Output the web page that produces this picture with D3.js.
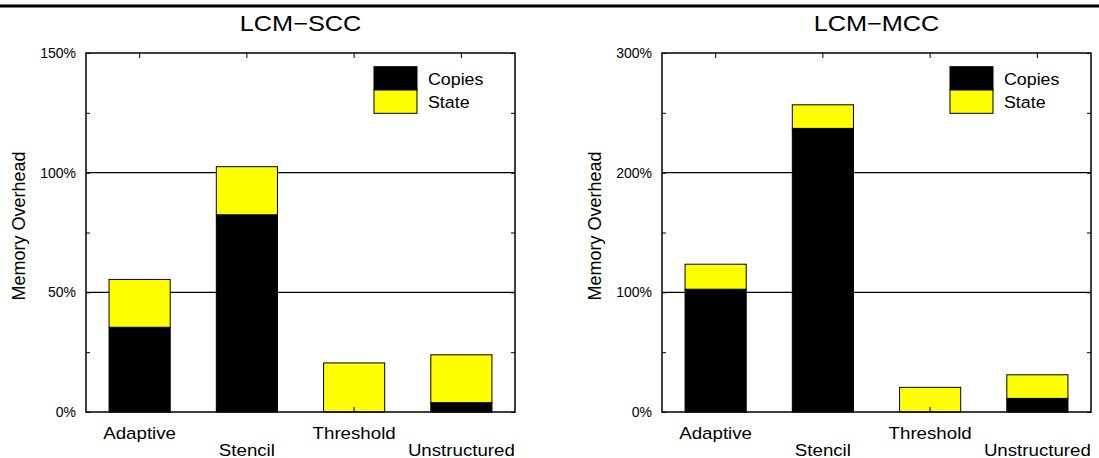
<!DOCTYPE html>
<html><head><meta charset="utf-8">
<script src="https://cdn.jsdelivr.net/npm/d3@7"></script>
<style>
body{margin:0;background:#fff}
svg{display:block}
text{font-family:"Liberation Sans",Arial,Helvetica,sans-serif;fill:#000}
</style>
</head><body>
<svg id="c" width="1099" height="458"></svg>
<script>
const categories = ["Adaptive", "Stencil", "Threshold", "Unstructured"];
const seriesNames = ["Copies", "State"];
const seriesColors = ["#000000", "#ffff00"];
const sccCopies = [35.4, 82.4, 0, 3.9];
const sccState = [20.0, 20.1, 20.5, 20.0];
const mccCopies = [102.6, 237.0, 0, 11.4];
const mccState = [20.9, 19.7, 20.6, 19.7];
const sccTicks = [0, 50, 100, 150];
const sccMinor = [25, 75, 125];
const mccTicks = [0, 100, 200, 300];
const mccMinor = [50, 150, 250];
const titles = ["LCM\u2212SCC", "LCM\u2212MCC"];
const yLabel = "Memory Overhead";

const svg = d3.select("#c");
const W = 1099;

// top rule
svg.append("line").attr("x1", 0).attr("x2", W).attr("y1", 6).attr("y2", 6)
  .attr("stroke", "#000").attr("stroke-width", 3);

const panels = [
  {x0: 86, x1: 515, copies: sccCopies, state: sccState, ticks: sccTicks, minor: sccMinor, title: titles[0]},
  {x0: 662, x1: 1091, copies: mccCopies, state: mccState, ticks: mccTicks, minor: mccMinor, title: titles[1]}
];
const yTop = 53, yBot = 412;

function stretchedText(g, x, y, str, size, anchor, sx) {
  return g.append("text")
    .attr("transform", `translate(${x},${y}) scale(${sx},1)`)
    .attr("font-size", size).attr("text-anchor", anchor).text(str);
}

panels.forEach(p => {
  const g = svg.append("g");
  const x = d3.scaleBand().domain(categories).range([p.x0, p.x1])
    .paddingInner(0.43).paddingOuter(0.215);
  const y = d3.scaleLinear().domain([0, p.ticks[p.ticks.length - 1]]).range([yBot, yTop]);
  const cx = c => x(c) + x.bandwidth() / 2;

  // gridlines
  g.selectAll("line.grid").data(p.ticks.slice(1, -1)).join("line")
    .attr("x1", p.x0).attr("x2", p.x1)
    .attr("y1", d => y(d)).attr("y2", d => y(d))
    .attr("stroke", "#000").attr("stroke-width", 1.2);

  // bars
  const rows = categories.map((c, i) => ({c, copies: p.copies[i], state: p.state[i]}));
  g.selectAll("rect.copies").data(rows.filter(r => r.copies > 0)).join("rect")
    .attr("x", r => x(r.c)).attr("width", x.bandwidth())
    .attr("y", r => y(r.copies)).attr("height", r => y(0) - y(r.copies))
    .attr("fill", seriesColors[0]).attr("stroke", "#000").attr("stroke-width", 1);
  g.selectAll("rect.state").data(rows).join("rect")
    .attr("x", r => x(r.c)).attr("width", x.bandwidth())
    .attr("y", r => y(r.copies + r.state)).attr("height", r => y(r.copies) - y(r.copies + r.state))
    .attr("fill", seriesColors[1]).attr("stroke", "#000").attr("stroke-width", 1);

  // frame
  g.append("rect").attr("x", p.x0).attr("y", yTop).attr("width", p.x1 - p.x0).attr("height", yBot - yTop)
    .attr("fill", "none").attr("stroke", "#000").attr("stroke-width", 1.5);

  // left axis ticks + labels
  const axL = d3.axisLeft(y).tickValues(p.ticks).tickSizeInner(-4).tickSizeOuter(0)
    .tickPadding(10).tickFormat(d => d + "%");
  const gl = g.append("g").attr("transform", `translate(${p.x0},0)`).call(axL);
  gl.select(".domain").remove();
  gl.selectAll("text").attr("font-size", 14).attr("font-family", null).attr("fill", "#000");
  gl.selectAll("line").attr("stroke", "#000");
  // minor ticks left
  g.append("g").attr("transform", `translate(${p.x0},0)`)
    .call(d3.axisLeft(y).tickValues(p.minor).tickSizeInner(-4).tickSizeOuter(0).tickFormat(""))
    .call(s => s.select(".domain").remove());
  // right axis minor + major ticks
  g.append("g").attr("transform", `translate(${p.x1},0)`)
    .call(d3.axisRight(y).tickValues(p.minor.concat(p.ticks)).tickSizeInner(-4).tickSizeOuter(0).tickFormat(""))
    .call(s => s.select(".domain").remove());
  // top ticks at category centres
  g.append("g").attr("transform", `translate(0,${yTop})`)
    .call(d3.axisTop(x).tickSizeInner(-5).tickSizeOuter(0).tickFormat(""))
    .call(s => s.select(".domain").remove());
  // bottom ticks
  g.append("g").attr("transform", `translate(0,${yBot})`)
    .call(d3.axisBottom(x).tickSizeInner(-5).tickSizeOuter(0).tickFormat(""))
    .call(s => s.select(".domain").remove());

  // category labels (staggered)
  categories.forEach((c, i) => {
    stretchedText(g, cx(c), i % 2 === 0 ? 438.5 : 455.5, c, 17, "middle", 1.1);
  });

  // title
  stretchedText(g, (p.x0 + p.x1) / 2, 31, p.title, 22, "middle", 1.15);

  // y label
  g.append("text")
    .attr("transform", `translate(${p.x0 - 61},${226}) rotate(-90)`)
    .attr("font-size", 18).attr("text-anchor", "middle").text(yLabel);

  // legend
  const lx = p.x1 - 141, ly = 66.7, bw = 43, bh = 23.3;
  seriesNames.forEach((s, i) => {
    g.append("rect").attr("x", lx).attr("y", ly + i * bh).attr("width", bw).attr("height", bh)
      .attr("fill", seriesColors[i]).attr("stroke", "#000").attr("stroke-width", 1);
    stretchedText(g, lx + 54, ly + i * bh + 18.3, s, 16.5, "start", 1.08);
  });
});
</script>
</body></html>
